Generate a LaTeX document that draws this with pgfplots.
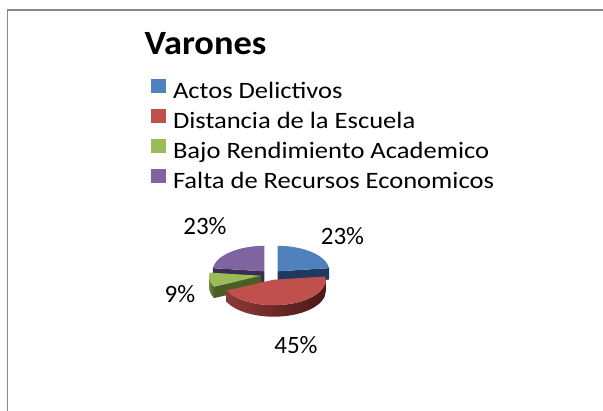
\documentclass[border=0pt]{standalone}
\usepackage{pgfplots}
\pgfplotsset{compat=1.18}
\usepackage{pgfplotstable}
\usepackage{fontspec}
\setmainfont{Carlito}
\newfontfamily\legfont{Carlito}[FakeStretch=1.13]
\newfontfamily\titfont{Carlito}[FakeStretch=1.07]
\definecolor{sA}{HTML}{4F81BD}
\definecolor{sB}{HTML}{C0504D}
\definecolor{sC}{HTML}{9BBB59}
\definecolor{sD}{HTML}{8064A2}
\definecolor{dA}{HTML}{1F3A5E}
\definecolor{dB}{HTML}{4A1918}
\definecolor{dC}{HTML}{4A5E26}
\definecolor{dD}{HTML}{3A2C52}
\definecolor{framec}{HTML}{878787}

\pgfplotstableread{
idx value
0 23
1 45
2 9
3 23
}\piedata

% pie geometry (1 axis unit = 1pt)
\newcommand\Cx{271}
\newcommand\Cy{136}
\newcommand\Rx{52}
\newcommand\Ry{25.5}
\newcommand\Dp{11.5}
\newcommand\Ex{10}

\newcommand\slice[4]{%
  \pgfmathsetmacro\md{(#1+#2)/2}%
  \pgfmathsetmacro\vx{\Cx+\Ex*cos(\md)}%
  \pgfmathsetmacro\vy{\Cy+\Ex*\Ry/\Rx*sin(\md)}%
  \pgfmathsetmacro\vyb{\vy-\Dp}%
  \pgfmathsetmacro\lox{\vx+\Rx*cos(#1)}%
  \pgfmathsetmacro\loy{\vy+\Ry*sin(#1)}%
  \pgfmathsetmacro\loyb{\loy-\Dp}%
  \pgfmathsetmacro\hix{\vx+\Rx*cos(#2)}%
  \pgfmathsetmacro\hiy{\vy+\Ry*sin(#2)}%
  \pgfmathsetmacro\hiyb{\hiy-\Dp}%
  \pgfmathtruncatemacro\flag{cos(#1)>0.01}%
  \ifnum\flag=1
    \fill[#4] (axis cs:\vx,\vy) -- (axis cs:\lox,\loy) -- (axis cs:\lox,\loyb) -- (axis cs:\vx,\vyb) -- cycle;
  \fi
  \pgfmathtruncatemacro\flag{cos(#2)<-0.01}%
  \ifnum\flag=1
    \fill[#4] (axis cs:\vx,\vy) -- (axis cs:\hix,\hiy) -- (axis cs:\hix,\hiyb) -- (axis cs:\vx,\vyb) -- cycle;
  \fi
  \pgfmathsetmacro\ra{max(#1,-180)}%
  \pgfmathsetmacro\rb{min(#2,0)}%
  \pgfmathtruncatemacro\flag{\rb>\ra}%
  \ifnum\flag=1
    \pgfmathsetmacro\rax{\vx+\Rx*cos(\ra)}%
    \pgfmathsetmacro\ray{\vy+\Ry*sin(\ra)}%
    \pgfmathsetmacro\rbx{\vx+\Rx*cos(\rb)}%
    \pgfmathsetmacro\rbyb{\vy+\Ry*sin(\rb)-\Dp}%
    \shade[left color=#3!72!black, right color=#4]
      (axis cs:\rax,\ray) arc[start angle=\ra, end angle=\rb, x radius=\Rx pt, y radius=\Ry pt]
      -- (axis cs:\rbx,\rbyb) arc[start angle=\rb, end angle=\ra, x radius=\Rx pt, y radius=\Ry pt] -- cycle;
  \fi
  \fill[#3] (axis cs:\vx,\vy) -- (axis cs:\lox,\loy)
    arc[start angle=#1, end angle=#2, x radius=\Rx pt, y radius=\Ry pt] -- cycle;
}

\begin{document}
\begin{tikzpicture}
\pgfplotstablegetelem{0}{value}\of\piedata \pgfmathsetmacro\vA{\pgfplotsretval}
\pgfplotstablegetelem{1}{value}\of\piedata \pgfmathsetmacro\vB{\pgfplotsretval}
\pgfplotstablegetelem{2}{value}\of\piedata \pgfmathsetmacro\vC{\pgfplotsretval}
\pgfplotstablegetelem{3}{value}\of\piedata \pgfmathsetmacro\vD{\pgfplotsretval}
\pgfmathsetmacro\tot{\vA+\vB+\vC+\vD}
\pgfmathsetmacro\hiA{90}
\pgfmathsetmacro\loA{\hiA-360*\vA/\tot}
\pgfmathsetmacro\hiB{\loA}
\pgfmathsetmacro\loB{\hiB-360*\vB/\tot}
\pgfmathsetmacro\hiC{\loB}
\pgfmathsetmacro\loC{\hiC-360*\vC/\tot}
\pgfmathsetmacro\hiD{\loC}
\pgfmathsetmacro\loD{\hiD-360*\vD/\tot}
\begin{axis}[
  x=1pt, y=1pt, xmin=0, xmax=603, ymin=0, ymax=411,
  hide axis, clip=false,
  legend style={at={(axis cs:151,332)}, anchor=north west, draw=none, fill=none,
    inner sep=0pt, outer sep=0pt, row sep=5.3pt,
    font=\legfont\fontsize{23.5}{28}\selectfont,
    nodes={inner sep=0pt, text height=17pt, text depth=5pt},
    /tikz/every odd column/.append style={column sep=7pt}},
  legend cell align=left,
  legend image code/.code={\fill[#1] (0pt,-0.7pt) rectangle (15pt,13.7pt);},
]
\addlegendimage{fill=sA, draw=none}
\addlegendentry{Actos Delictivos}
\addlegendimage{fill=sB, draw=none}
\addlegendentry{Distancia de la Escuela}
\addlegendimage{fill=sC, draw=none}
\addlegendentry{Bajo Rendimiento Academico}
\addlegendimage{fill=sD, draw=none}
\addlegendentry{Falta de Recursos Economicos}

\draw[framec, line width=1.3pt] (axis cs:7.3,-20) |- (axis cs:640,401);

\pgfplotsextra{
  \slice{\loD}{\hiD}{sD}{dD}
  \slice{\loA}{\hiA}{sA}{dA}
  \slice{\loC}{\hiC}{sC}{dC}
  \slice{\loB}{\hiB}{sB}{dB}
}

\node[anchor=base west, font=\titfont\fontsize{34}{40}\selectfont\bfseries] at (axis cs:141,356) {Varones};
\node[font=\fontsize{25}{30}\selectfont] at (axis cs:342.5,175) {23\%};
\node[font=\fontsize{25}{30}\selectfont] at (axis cs:296,66) {45\%};
\node[font=\fontsize{25}{30}\selectfont] at (axis cs:180,117) {9\%};
\node[font=\fontsize{25}{30}\selectfont] at (axis cs:205,185) {23\%};
\end{axis}
\pgfresetboundingbox
\useasboundingbox (0,0) rectangle (603pt,411pt);
\end{tikzpicture}
\end{document}
